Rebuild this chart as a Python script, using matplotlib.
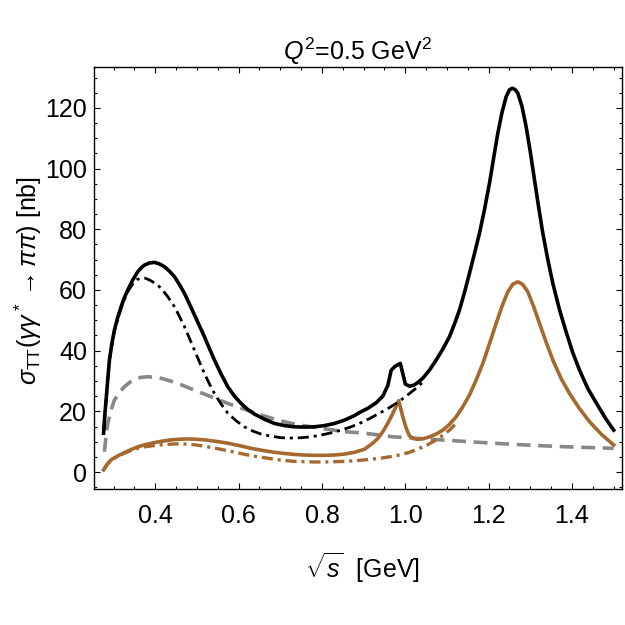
import numpy as np
import matplotlib
matplotlib.use('Agg')
import matplotlib.pyplot as plt
from matplotlib.ticker import MultipleLocator

plt.rcParams['font.family'] = ['Liberation Sans', 'DejaVu Sans']
plt.rcParams['mathtext.fontset'] = 'custom'
plt.rcParams['mathtext.rm'] = 'Liberation Sans'
plt.rcParams['mathtext.it'] = 'Liberation Sans:italic'
plt.rcParams['mathtext.bf'] = 'Liberation Sans:bold'
plt.rcParams['lines.scale_dashes'] = False

# total cross section (solid black)
x_tot = [0.276, 0.279, 0.282, 0.286, 0.290, 0.296, 0.302, 0.310, 0.318, 0.326, 0.334,
         0.346, 0.358, 0.366, 0.374, 0.386, 0.398, 0.410, 0.422, 0.434, 0.446, 0.458,
         0.470, 0.482, 0.494, 0.506, 0.518, 0.530, 0.542, 0.558, 0.574, 0.590, 0.606,
         0.622, 0.638, 0.662, 0.686, 0.710, 0.734, 0.758, 0.782, 0.806, 0.830, 0.854,
         0.878, 0.890, 0.910, 0.930, 0.946, 0.958, 0.966, 0.975, 0.988, 0.993, 1.000,
         1.010, 1.020, 1.030, 1.042, 1.058, 1.074, 1.090, 1.106, 1.118, 1.130, 1.142,
         1.154, 1.166, 1.178, 1.190, 1.202, 1.212, 1.222, 1.232, 1.242, 1.250, 1.257,
         1.264, 1.270, 1.280, 1.290, 1.300, 1.310, 1.320, 1.330, 1.342, 1.354, 1.370,
         1.387, 1.402, 1.418, 1.438, 1.459, 1.480, 1.500]
y_tot = [12.8, 19.0, 23.7, 30.5, 36.9, 42.5, 46.8, 51.0, 54.5, 57.5, 60.0,
         63.3, 66.0, 67.3, 68.2, 68.9, 69.1, 68.6, 67.7, 66.2, 64.4, 61.8,
         58.9, 55.4, 51.8, 48.2, 44.6, 40.7, 36.9, 32.3, 28.1, 25.0, 22.6,
         20.6, 19.1, 17.4, 16.0, 15.3, 14.9, 14.8, 14.9, 15.3, 16.0, 17.1,
         18.6, 19.6, 21.0, 22.8, 25.0, 28.5, 33.5, 34.8, 35.8, 33.0, 29.0,
         28.3, 28.6, 29.5, 30.9, 33.6, 36.9, 40.5, 44.6, 48.8, 53.4, 59.2,
         65.5, 72.0, 78.7, 86.5, 95.2, 103.5, 111.7, 118.5, 123.7, 126.0, 126.5,
         126.0, 124.9, 120.5, 113.8, 105.5, 96.3, 87.3, 78.7, 70.0, 62.2, 53.5,
         45.7, 39.3, 33.6, 27.5, 22.6, 17.8, 13.8]

# black dash-dot
x_tot2 = [0.276, 0.282, 0.290, 0.302, 0.318, 0.334, 0.346, 0.356, 0.366, 0.376, 0.386,
          0.400, 0.414, 0.430, 0.446, 0.458, 0.470, 0.482, 0.494, 0.506, 0.518, 0.530,
          0.542, 0.558, 0.574, 0.594, 0.614, 0.634, 0.654, 0.678, 0.702, 0.726, 0.750,
          0.774, 0.798, 0.822, 0.846, 0.868, 0.890, 0.914, 0.938, 0.958, 0.978, 1.004,
          1.030, 1.045]
y_tot2 = [12.8, 23.7, 36.9, 46.6, 54.0, 59.5, 62.0, 63.4, 63.9, 63.9, 63.3,
          62.2, 60.6, 57.8, 54.5, 51.3, 47.9, 44.1, 40.2, 36.3, 32.5, 29.0,
          25.9, 22.4, 19.4, 16.9, 14.9, 13.5, 12.5, 11.8, 11.3, 11.2, 11.3,
          11.6, 12.2, 12.9, 13.8, 14.8, 16.0, 17.6, 19.4, 20.9, 22.6, 25.2,
          28.1, 30.0]

# gray dashed
x_gray = [0.278, 0.282, 0.286, 0.294, 0.302, 0.314, 0.326, 0.338, 0.350, 0.366, 0.382,
          0.398, 0.414, 0.434, 0.454, 0.494, 0.534, 0.574, 0.614, 0.654, 0.694, 0.734,
          0.774, 0.814, 0.854, 0.902, 0.970, 1.050, 1.130, 1.210, 1.290, 1.370, 1.500]
y_gray = [6.7, 12.0, 16.0, 20.5, 23.7, 26.3, 28.1, 29.5, 30.6, 31.2, 31.4,
          31.3, 30.9, 30.1, 29.2, 27.0, 24.8, 22.6, 20.7, 18.8, 17.1, 15.8,
          14.9, 14.1, 13.3, 12.8, 11.6, 10.9, 10.2, 9.5, 8.9, 8.4, 7.8]

# brown solid
x_br = [0.276, 0.285, 0.294, 0.310, 0.326, 0.342, 0.358, 0.378, 0.398, 0.418, 0.438,
        0.458, 0.478, 0.498, 0.518, 0.546, 0.574, 0.602, 0.630, 0.658, 0.686, 0.710,
        0.734, 0.758, 0.782, 0.806, 0.830, 0.854, 0.878, 0.902, 0.922, 0.935, 0.946,
        0.956, 0.966, 0.976, 0.984, 0.988, 0.994, 1.002, 1.010, 1.020, 1.030, 1.044,
        1.058, 1.074, 1.090, 1.106, 1.122, 1.138, 1.154, 1.170, 1.186, 1.202, 1.218,
        1.232, 1.246, 1.258, 1.270, 1.282, 1.294, 1.308, 1.322, 1.338, 1.354, 1.374,
        1.394, 1.418, 1.442, 1.470, 1.500]
y_br = [0.7, 2.6, 4.0, 5.3, 6.4, 7.4, 8.3, 9.1, 9.7, 10.2, 10.6,
        10.8, 10.9, 10.8, 10.6, 10.1, 9.5, 8.7, 7.8, 7.1, 6.5, 6.1,
        5.8, 5.6, 5.5, 5.5, 5.6, 5.9, 6.5, 7.5, 9.5, 11.2, 13.3,
        15.6, 18.2, 21.0, 23.5, 21.5, 18.2, 14.5, 11.9, 11.0, 10.8, 11.0,
        11.6, 12.5, 13.8, 15.7, 18.2, 21.5, 25.4, 30.3, 35.8, 42.3, 49.0,
        54.6, 59.4, 61.9, 62.7, 61.8, 59.4, 54.5, 49.0, 42.8, 36.9, 30.8,
        25.9, 20.9, 16.6, 12.5, 8.9]

# brown dash-dot
x_br2 = [0.276, 0.285, 0.294, 0.310, 0.326, 0.342, 0.358, 0.378, 0.398, 0.418, 0.438,
         0.458, 0.478, 0.498, 0.518, 0.546, 0.574, 0.602, 0.630, 0.658, 0.686, 0.710,
         0.734, 0.758, 0.782, 0.806, 0.830, 0.854, 0.878, 0.902, 0.938, 0.962, 0.986,
         1.010, 1.034, 1.054, 1.074, 1.090, 1.106, 1.122]
y_br2 = [0.7, 2.6, 3.9, 5.2, 6.2, 7.1, 7.8, 8.4, 8.7, 9.0, 9.2,
         9.3, 9.2, 8.9, 8.5, 7.8, 7.0, 6.2, 5.4, 4.8, 4.2, 3.8,
         3.5, 3.4, 3.3, 3.3, 3.4, 3.5, 3.7, 4.0, 4.5, 5.0, 5.6,
         6.5, 7.8, 9.0, 10.6, 12.1, 13.8, 16.0]

brown = '#a5692f'

fig = plt.figure(figsize=(6.25, 6.25), dpi=100)
ax = fig.add_axes([94/625, 1 - 489/625, 528/625, 422/625])

ax.plot(x_gray, y_gray, color='#888888', lw=2.6, dashes=(10, 5.5))
ax.plot(x_br2, y_br2, color=brown, lw=2.4, dashes=(8, 3.5, 2.2, 3.5))
ax.plot(x_br, y_br, color=brown, lw=2.6)
ax.plot(x_tot2, y_tot2, color='black', lw=2.0, dashes=(8, 3.5, 2.2, 3.5))
ax.plot(x_tot, y_tot, color='black', lw=2.6)

ax.set_xlim(0.253, 1.52)
ax.set_ylim(-5.6, 133.5)
ax.xaxis.set_major_locator(MultipleLocator(0.2))
ax.xaxis.set_minor_locator(MultipleLocator(0.05))
ax.yaxis.set_major_locator(MultipleLocator(20))
ax.yaxis.set_minor_locator(MultipleLocator(5))
ax.xaxis.set_major_formatter(plt.FuncFormatter(lambda v, p: f'{v:.1f}'))

ax.tick_params(which='both', direction='in', top=True, right=True, width=0.8,
               labelsize=18)
ax.tick_params(which='major', length=4.5)
ax.tick_params(which='minor', length=2.5)
ax.tick_params(axis='x', which='major', pad=11)
ax.tick_params(axis='y', which='major', pad=5)
for s in ax.spines.values():
    s.set_linewidth(1.0)

ax.set_title(r'$Q^2$=0.5 GeV$^2$', fontsize=18, pad=4)
ax.set_xlabel(r'$\sqrt{s}$  [GeV]', fontsize=18)
ax.set_ylabel(r'$\sigma_{\rm TT}(\gamma\gamma^* \to \pi\pi)$ [nb]', fontsize=18)
ax.xaxis.set_label_coords(0.508, -0.145)
ax.yaxis.set_label_coords(-0.095, 0.495)

fig.savefig('out.png', dpi=100)
